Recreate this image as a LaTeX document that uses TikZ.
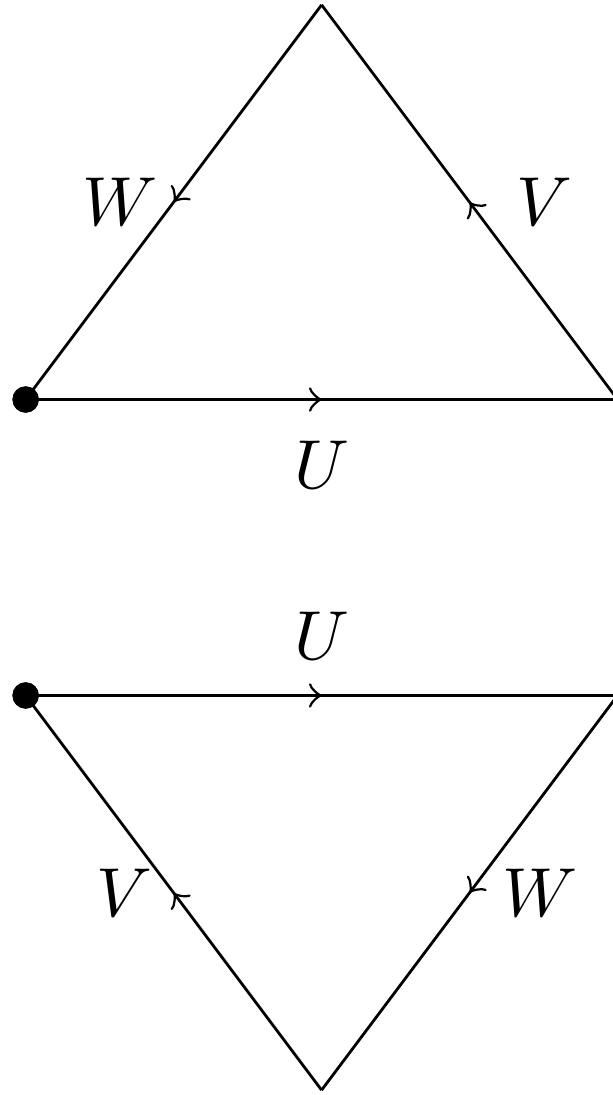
\documentclass[tikz,border=0pt]{standalone}
\usepackage{amsmath,amssymb}
\usetikzlibrary{decorations.markings}

\begin{document}
\begin{tikzpicture}[
  midarrow/.style={postaction={decorate},
    decoration={markings,mark=at position 0.5 with {\arrow{to}}}},
  basept/.style={circle,fill,inner sep=0pt,minimum size=3.8pt}]
  \useasboundingbox (-0.13,-3.525) rectangle (2.972,2.025);
  % upper triangle
  \node[basept] (a) at (0,0) {};
  \coordinate (b) at (3,0);
  \coordinate (c) at (1.5,2);
  \draw[midarrow] (a.center) -- (b) node[midway,below=2.5pt] (lu) {$U$};
  \draw[midarrow] (b) -- (c) node[midway,right=3.3pt] (lv) {$V$};
  \draw[midarrow] (c) -- (a.center) node[midway,left=-1.2pt] (lw) {$W$};
  \node[basept] at (a) {};
  % lower triangle
  \node[basept] (d) at (0,-1.5) {};
  \coordinate (e) at (3,-1.5);
  \coordinate (f) at (1.5,-3.5);
  \draw[midarrow] (d.center) -- (e) node[midway,above=1.7pt] (lu2) {$U$};
  \draw[midarrow] (e) -- (f) node[midway,right=1.2pt] (lw2) {$W$};
  \draw[midarrow] (f) -- (d.center) node[midway,left=-0.5pt] (lv2) {$V$};
  \node[basept] at (d) {};
\end{tikzpicture}
\end{document}
